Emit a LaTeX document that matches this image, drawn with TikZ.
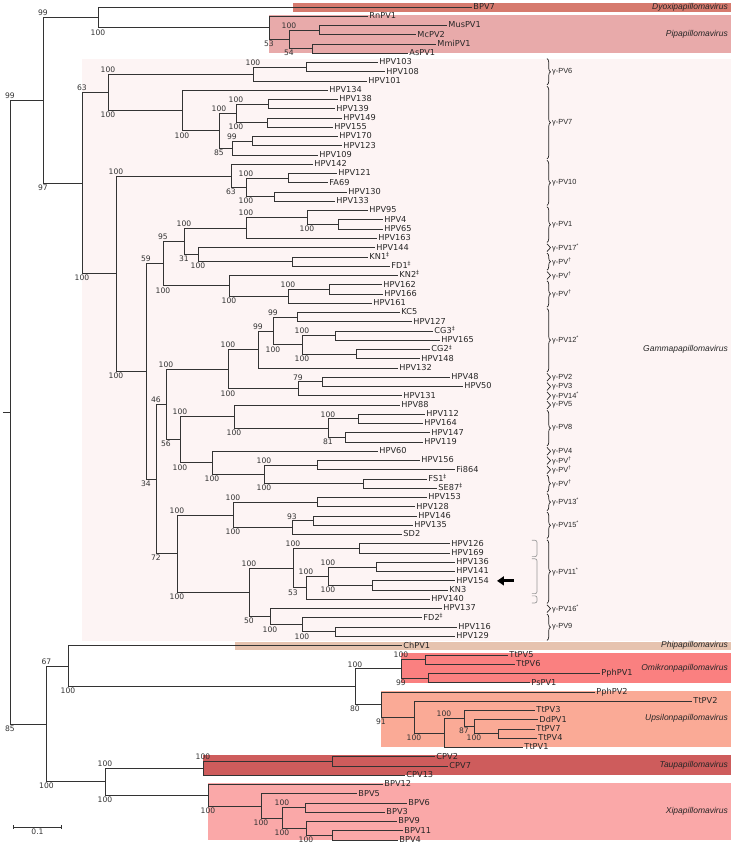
\documentclass[tikz,border=0pt]{standalone}
\usepackage{fontspec}
\setmainfont{DejaVu Sans}
\newfontfamily\cladefont{Liberation Sans}
\usetikzlibrary{decorations.pathreplacing,arrows.meta}

\definecolor{dyoxi}{RGB}{214,122,110}
\definecolor{pipa}{RGB}{232,170,170}
\definecolor{gammabg}{RGB}{253,244,244}
\definecolor{phi}{RGB}{230,195,175}
\definecolor{omikron}{RGB}{250,128,128}
\definecolor{upsilon}{RGB}{250,170,150}
\definecolor{tau}{RGB}{206,92,92}
\definecolor{xi}{RGB}{250,168,168}

\tikzset{
  branch/.style={line width=0.8pt,draw=black!80},
  leaf/.style={anchor=west,inner sep=1.5pt,outer sep=0pt,text=black!85,
    font=\fontsize{8.2}{9}\selectfont,text height=6.2pt,text depth=1.5pt},
  hi/.style={pos=0.5,anchor=south,inner sep=1.2pt,text=black!80,font=\fontsize{7.6}{9}\selectfont},
  lo/.style={pos=0.5,anchor=north,inner sep=1.2pt,text=black!80,font=\fontsize{7.6}{9}\selectfont},
  clade/.style={anchor=east,inner sep=0pt,text=black!85,font=\cladefont\itshape\fontsize{8.5}{10}\selectfont},
  grp/.style={anchor=west,inner sep=1pt,text=black!85,font=\cladefont\fontsize{7.4}{8}\selectfont},
  brc/.style={decorate,decoration={brace,amplitude=3.5pt},line width=0.7pt,draw=black!85},
  subbr/.style={draw=black!40,rounded corners=2pt,line width=0.7pt},
}

\begin{document}
\begin{tikzpicture}[x=1pt,y=-9.256pt]
\useasboundingbox (0,0.2437) rectangle (734,91.753);

% genus shading
\fill[dyoxi] (293,0.55) rectangle (731,1.5);
\fill[pipa] (269,1.9) rectangle (731,5.98);
\fill[gammabg] (82,6.6) rectangle (731,69.45);
\fill[phi] (235,69.55) rectangle (731,70.5);
\fill[omikron] (401,70.8) rectangle (731,74.0);
\fill[upsilon] (381,74.85) rectangle (731,81.0);
\fill[tau] (203,81.85) rectangle (731,83.95);
\fill[xi] (208,84.85) rectangle (731,91.0);

\node[clade] (dyoxilab) at (728,1) {Dyoxipapillomavirus};
\node[clade] (pipalab) at (728,4) {Pipapillomavirus};
\node[clade] (gammalab) at (728,38) {Gammapapillomavirus};
\node[clade] (philab) at (728,70) {Phipapillomavirus};
\node[clade] (omilab) at (728,72.45) {Omikronpapillomavirus};
\node[clade] (upslab) at (728,77.9) {Upsilonpapillomavirus};
\node[clade] (taulab) at (728,82.9) {Taupapillomavirus};
\node[clade] (xilab) at (728,87.9) {Xipapillomavirus};

% tips
\foreach \nm/\tx/\txt [count=\i] in {
  BPV7/472/BPV7, RnPV1/368/RnPV1, MusPV1/447/MusPV1, McPV2/416/McPV2, MmiPV1/436/MmiPV1,
  AsPV1/408/AsPV1, HPV103/378/HPV103, HPV108/385/HPV108, HPV101/367/HPV101, HPV134/328/HPV134,
  HPV138/338/HPV138, HPV139/335/HPV139, HPV149/342/HPV149, HPV155/333/HPV155, HPV170/338/HPV170,
  HPV123/342/HPV123, HPV109/318/HPV109, HPV142/313/HPV142, HPV121/337/HPV121, FA69/328/FA69,
  HPV130/347/HPV130, HPV133/335/HPV133, HPV95/368/HPV95, HPV4/383/HPV4, HPV65/383/HPV65,
  HPV163/377/HPV163, HPV144/375/HPV144, KN1/368/KN1\textsuperscript{‡}, FD1/390/FD1\textsuperscript{‡}, KN2/398/KN2\textsuperscript{‡},
  HPV162/382/HPV162, HPV166/383/HPV166, HPV161/372/HPV161, KC5/400/KC5, HPV127/412/HPV127,
  CG3/433/CG3\textsuperscript{‡}, HPV165/440/HPV165, CG2/430/CG2\textsuperscript{‡}, HPV148/420/HPV148, HPV132/398/HPV132,
  HPV48/450/HPV48, HPV50/463/HPV50, HPV131/402/HPV131, HPV88/400/HPV88, HPV112/425/HPV112,
  HPV164/423/HPV164, HPV147/430/HPV147, HPV119/423/HPV119, HPV60/378/HPV60, HPV156/420/HPV156,
  Fi864/455/Fi864, FS1/427/FS1\textsuperscript{‡}, SE87/437/SE87\textsuperscript{‡}, HPV153/427/HPV153, HPV128/415/HPV128,
  HPV146/417/HPV146, HPV135/413/HPV135, SD2/402/SD2, HPV126/450/HPV126, HPV169/450/HPV169,
  HPV136/455/HPV136, HPV141/455/HPV141, HPV154/455/HPV154, KN3/448/KN3, HPV140/430/HPV140,
  HPV137/442/HPV137, FD2/422/FD2\textsuperscript{‡}, HPV116/457/HPV116, HPV129/455/HPV129, ChPV1/402/ChPV1,
  TtPV5/508/TtPV5, TtPV6/515/TtPV6, PphPV1/600/PphPV1, PsPV1/530/PsPV1, PphPV2/595/PphPV2,
  TtPV2/692/TtPV2, TtPV3/535/TtPV3, DdPV1/538/DdPV1, TtPV7/535/TtPV7, TtPV4/537/TtPV4,
  TtPV1/523/TtPV1, CPV2/435/CPV2, CPV7/448/CPV7, CPV13/405/CPV13, BPV12/383/BPV12,
  BPV5/357/BPV5, BPV6/407/BPV6, BPV3/385/BPV3, BPV9/397/BPV9, BPV11/403/BPV11, BPV4/398/BPV4}
  \node[leaf] (\nm) at (\tx,\i) {\txt};

% inner nodes
\coordinate (root) at (10,44.7637);
\coordinate (stem) at (3,44.7637);
\coordinate (A) at (43,11.0684);
\coordinate (B) at (46.5,78.459);
\coordinate (A1) at (98,2.125);
\coordinate (P) at (269,3.25);
\coordinate (Q) at (289,4.5);
\coordinate (R) at (319,3.5);
\coordinate (S) at (312,5.5);
\coordinate (G) at (82,20.0117);
\coordinate (G1) at (108,10.2188);
\coordinate (G2) at (116,29.8047);
\coordinate (G6n) at (253,8.25);
\coordinate (N103) at (306,7.5);
\coordinate (G7n) at (182,12.1875);
\coordinate (N7b) at (219,14.375);
\coordinate (N7c) at (236,12.5);
\coordinate (N138) at (268,11.5);
\coordinate (N149) at (267,13.5);
\coordinate (N7d) at (232,16.25);
\coordinate (N170) at (252,15.5);
\coordinate (G10n) at (231,19.25);
\coordinate (N10b) at (246,20.5);
\coordinate (N121) at (288,19.5);
\coordinate (N130) at (274,21.5);
\coordinate (G3) at (146,40.3594);
\coordinate (G3a) at (163,28.7188);
\coordinate (G3a1) at (184,26.3125);
\coordinate (N1) at (246,24.875);
\coordinate (N95) at (307,23.75);
\coordinate (N4) at (338,24.5);
\coordinate (N17) at (198,27.75);
\coordinate (NKN1) at (292,28.5);
\coordinate (G3a2) at (229,31.125);
\coordinate (N162) at (288,32.25);
\coordinate (N162b) at (329,31.5);
\coordinate (G3b) at (156,52);
\coordinate (G4) at (166,43.9375);
\coordinate (G4a) at (228,40.125);
\coordinate (G4a1) at (258,38);
\coordinate (N99b) at (273,36);
\coordinate (NKC5) at (297,34.5);
\coordinate (NCG) at (302,37.5);
\coordinate (NCG3) at (335,36.5);
\coordinate (NCG2) at (356,38.5);
\coordinate (G4a2) at (298,42.25);
\coordinate (N48) at (322,41.5);
\coordinate (G5) at (180,47.75);
\coordinate (G5a) at (234,45.25);
\coordinate (N8) at (328,46.5);
\coordinate (N112) at (358,45.5);
\coordinate (N147) at (345,47.5);
\coordinate (G5b) at (212,50.25);
\coordinate (N5b1) at (264,51.5);
\coordinate (N156) at (317,50.5);
\coordinate (NFS1) at (363,52.5);
\coordinate (G6) at (177,60.0625);
\coordinate (G6a) at (233,55.875);
\coordinate (N153) at (317,54.5);
\coordinate (N6a2) at (292,57.25);
\coordinate (N146) at (313,56.5);
\coordinate (G6b) at (249,64.25);
\coordinate (G11) at (293,61.625);
\coordinate (N126) at (359,59.5);
\coordinate (G11b) at (306,63.75);
\coordinate (G11c) at (328,62.5);
\coordinate (N136) at (376,61.5);
\coordinate (N154) at (372,63.5);
\coordinate (G9) at (270,66.875);
\coordinate (G9b) at (302,67.75);
\coordinate (N116) at (335,68.5);
\coordinate (B1) at (68,72.2148);
\coordinate (B1b) at (355,74.4297);
\coordinate (Omi) at (401,72.5);
\coordinate (N5) at (425,71.5);
\coordinate (NPph) at (428,73.5);
\coordinate (Ups) at (381,76.3594);
\coordinate (U2) at (414,77.7188);
\coordinate (U3) at (444,79.4375);
\coordinate (U4) at (464,77.875);
\coordinate (U5) at (474,78.75);
\coordinate (N7) at (498,79.5);
\coordinate (B2) at (105,84.7031);
\coordinate (Tau) at (203,83.25);
\coordinate (NCPV) at (332,82.5);
\coordinate (Xi) at (208,86.1563);
\coordinate (X2) at (261,87.3125);
\coordinate (X3) at (282,88.625);
\coordinate (N6) at (305,87.5);
\coordinate (X4) at (306,89.75);
\coordinate (N11) at (332,90.5);

% branches
\draw[branch] (stem) -- (root);
\draw[branch] (root) |- (A) node[hi] (sA) {99} (root) |- (B) node[lo] (sB) {85};
\draw[branch] (A) |- (A1) node[hi] (sA1) {99} (A) |- (G) node[lo] (sG) {97};
\draw[branch] (A1) |- (BPV7) (A1) |- (P) node[lo] (sP) {100};
\draw[branch] (P) |- (RnPV1) (P) |- (Q) node[lo] (sQ) {53};
\draw[branch] (Q) |- (R) node[hi] (sR) {100} (Q) |- (S) node[lo] (sS) {54};
\draw[branch] (R) |- (MusPV1) (R) |- (McPV2) (S) |- (MmiPV1) (S) |- (AsPV1);
% gamma
\draw[branch] (G) |- (G1) node[hi] (sG1) {63} (G) |- (G2) node[lo] (sG2) {100};
\draw[branch] (G1) |- (G6n) node[hi] (sG6n) {100} (G1) |- (G7n) node[lo] (sG7n) {100};
\draw[branch] (G6n) |- (N103) node[hi] (sN103) {100} (G6n) |- (HPV101);
\draw[branch] (N103) |- (HPV103) (N103) |- (HPV108);
\draw[branch] (G7n) |- (HPV134) (G7n) |- (N7b) node[lo] (sN7b) {100};
\draw[branch] (N7b) |- (N7c) node[hi] (sN7c) {100} (N7b) |- (N7d) node[lo] (sN7d) {85};
\draw[branch] (N7c) |- (N138) node[hi] (sN138) {100} (N7c) |- (N149) node[lo] (sN149) {100};
\draw[branch] (N138) |- (HPV138) (N138) |- (HPV139) (N149) |- (HPV149) (N149) |- (HPV155);
\draw[branch] (N7d) |- (N170) node[hi] (sN170) {99} (N7d) |- (HPV109);
\draw[branch] (N170) |- (HPV170) (N170) |- (HPV123);
\draw[branch] (G2) |- (G10n) node[hi] (sG10n) {100} (G2) |- (G3) node[lo] (sG3) {100};
\draw[branch] (G10n) |- (HPV142) (G10n) |- (N10b) node[lo] (sN10b) {63};
\draw[branch] (N10b) |- (N121) node[hi] (sN121) {100} (N10b) |- (N130) node[lo] (sN130) {100};
\draw[branch] (N121) |- (HPV121) (N121) |- (FA69) (N130) |- (HPV130) (N130) |- (HPV133);
\draw[branch] (G3) |- (G3a) node[hi] (sG3a) {59} (G3) |- (G3b) node[lo] (sG3b) {34};
\draw[branch] (G3a) |- (G3a1) node[hi] (sG3a1) {95} (G3a) |- (G3a2) node[lo] (sG3a2) {100};
\draw[branch] (G3a1) |- (N1) node[hi] (sN1) {100} (G3a1) |- (N17) node[lo] (sN17) {31};
\draw[branch] (N1) |- (N95) node[hi] (sN95) {100} (N1) |- (HPV163);
\draw[branch] (N95) |- (HPV95) (N95) |- (N4) node[lo] (sN4) {100};
\draw[branch] (N4) |- (HPV4) (N4) |- (HPV65);
\draw[branch] (N17) |- (HPV144) (N17) |- (NKN1) node[lo] (sNKN1) {100};
\draw[branch] (NKN1) |- (KN1) (NKN1) |- (FD1);
\draw[branch] (G3a2) |- (KN2) (G3a2) |- (N162) node[lo] (sN162) {100};
\draw[branch] (N162) |- (N162b) node[hi] (sN162b) {100} (N162) |- (HPV161);
\draw[branch] (N162b) |- (HPV162) (N162b) |- (HPV166);
\draw[branch] (G3b) |- (G4) node[hi] (sG4) {46} (G3b) |- (G6) node[lo] (sG6) {72};
\draw[branch] (G4) |- (G4a) node[hi] (sG4a) {100} (G4) |- (G5) node[lo] (sG5) {56};
\draw[branch] (G4a) |- (G4a1) node[hi] (sG4a1) {100} (G4a) |- (G4a2) node[lo] (sG4a2) {100};
\draw[branch] (G4a1) |- (N99b) node[hi] (sN99b) {99} (G4a1) |- (HPV132);
\draw[branch] (N99b) |- (NKC5) node[hi] (sNKC5) {99} (N99b) |- (NCG) node[lo] (sNCG) {100};
\draw[branch] (NKC5) |- (KC5) (NKC5) |- (HPV127);
\draw[branch] (NCG) |- (NCG3) node[hi] (sNCG3) {100} (NCG) |- (NCG2) node[lo] (sNCG2) {100};
\draw[branch] (NCG3) |- (CG3) (NCG3) |- (HPV165) (NCG2) |- (CG2) (NCG2) |- (HPV148);
\draw[branch] (G4a2) |- (N48) node[hi] (sN48) {79} (G4a2) |- (HPV131);
\draw[branch] (N48) |- (HPV48) (N48) |- (HPV50);
\draw[branch] (G5) |- (G5a) node[hi] (sG5a) {100} (G5) |- (G5b) node[lo] (sG5b) {100};
\draw[branch] (G5a) |- (HPV88) (G5a) |- (N8) node[lo] (sN8) {100};
\draw[branch] (N8) |- (N112) node[hi] (sN112) {100} (N8) |- (N147) node[lo] (sN147) {81};
\draw[branch] (N112) |- (HPV112) (N112) |- (HPV164) (N147) |- (HPV147) (N147) |- (HPV119);
\draw[branch] (G5b) |- (HPV60) (G5b) |- (N5b1) node[lo] (sN5b1) {100};
\draw[branch] (N5b1) |- (N156) node[hi] (sN156) {100} (N5b1) |- (NFS1) node[lo] (sNFS1) {100};
\draw[branch] (N156) |- (HPV156) (N156) |- (Fi864) (NFS1) |- (FS1) (NFS1) |- (SE87);
\draw[branch] (G6) |- (G6a) node[hi] (sG6a) {100} (G6) |- (G6b) node[lo] (sG6b) {100};
\draw[branch] (G6a) |- (N153) node[hi] (sN153) {100} (G6a) |- (N6a2) node[lo] (sN6a2) {100};
\draw[branch] (N153) |- (HPV153) (N153) |- (HPV128);
\draw[branch] (N6a2) |- (N146) node[hi] (sN146) {93} (N6a2) |- (SD2);
\draw[branch] (N146) |- (HPV146) (N146) |- (HPV135);
\draw[branch] (G6b) |- (G11) node[hi] (sG11) {100} (G6b) |- (G9) node[lo] (sG9) {50};
\draw[branch] (G11) |- (N126) node[hi] (sN126) {100} (G11) |- (G11b) node[lo] (sG11b) {53};
\draw[branch] (N126) |- (HPV126) (N126) |- (HPV169);
\draw[branch] (G11b) |- (G11c) node[hi] (sG11c) {100} (G11b) |- (HPV140);
\draw[branch] (G11c) |- (N136) node[hi] (sN136) {100} (G11c) |- (N154) node[lo] (sN154) {100};
\draw[branch] (N136) |- (HPV136) (N136) |- (HPV141) (N154) |- (HPV154) (N154) |- (KN3);
\draw[branch] (G9) |- (HPV137) (G9) |- (G9b) node[lo] (sG9b) {100};
\draw[branch] (G9b) |- (FD2) (G9b) |- (N116) node[lo] (sN116) {100};
\draw[branch] (N116) |- (HPV116) (N116) |- (HPV129);
% lower part
\draw[branch] (B) |- (B1) node[hi] (sB1) {67} (B) |- (B2) node[lo] (sB2) {100};
\draw[branch] (B1) |- (ChPV1) (B1) |- (B1b) node[lo] (sB1b) {100};
\draw[branch] (B1b) |- (Omi) node[hi] (sOmi) {100} (B1b) |- (Ups) node[lo] (sUps) {80};
\draw[branch] (Omi) |- (N5) node[hi] (sN5) {100} (Omi) |- (NPph) node[lo] (sNPph) {99};
\draw[branch] (N5) |- (TtPV5) (N5) |- (TtPV6) (NPph) |- (PphPV1) (NPph) |- (PsPV1);
\draw[branch] (Ups) |- (PphPV2) (Ups) |- (U2) node[lo] (sU2) {91};
\draw[branch] (U2) |- (TtPV2) (U2) |- (U3) node[lo] (sU3) {100};
\draw[branch] (U3) |- (U4) node[hi] (sU4) {100} (U3) |- (TtPV1);
\draw[branch] (U4) |- (TtPV3) (U4) |- (U5) node[lo] (sU5) {87};
\draw[branch] (U5) |- (DdPV1) (U5) |- (N7) node[lo] (sN7) {100};
\draw[branch] (N7) |- (TtPV7) (N7) |- (TtPV4);
\draw[branch] (B2) |- (Tau) node[hi] (sTau) {100} (B2) |- (Xi) node[lo] (sXi) {100};
\draw[branch] (Tau) |- (NCPV) node[hi] (sNCPV) {100} (Tau) |- (CPV13);
\draw[branch] (NCPV) |- (CPV2) (NCPV) |- (CPV7);
\draw[branch] (Xi) |- (BPV12) (Xi) |- (X2) node[lo] (sX2) {100};
\draw[branch] (X2) |- (BPV5) (X2) |- (X3) node[lo] (sX3) {100};
\draw[branch] (X3) |- (N6) node[hi] (sN6) {100} (X3) |- (X4) node[lo] (sX4) {100};
\draw[branch] (N6) |- (BPV6) (N6) |- (BPV3);
\draw[branch] (X4) |- (BPV9) (X4) |- (N11) node[lo] (sN11) {100};
\draw[branch] (N11) |- (BPV11) (N11) |- (BPV4);

% gamma species braces
\foreach \a/\b/\t in {7/9/γ-PV6, 10/17/γ-PV7, 18/22/γ-PV10, 23/26/γ-PV1,
  27/27/γ-PV17\textsuperscript{*}, 28/29/γ-PV\textsuperscript{†}, 30/30/γ-PV\textsuperscript{†},
  31/33/γ-PV\textsuperscript{†}, 34/40/γ-PV12\textsuperscript{*}, 41/41/γ-PV2, 42/42/γ-PV3,
  43/43/γ-PV14\textsuperscript{*}, 44/44/γ-PV5, 45/48/γ-PV8, 49/49/γ-PV4,
  50/50/γ-PV\textsuperscript{†}, 51/51/γ-PV\textsuperscript{†}, 52/53/γ-PV\textsuperscript{†},
  54/55/γ-PV13\textsuperscript{*}, 56/58/γ-PV15\textsuperscript{*}, 59/65/γ-PV11\textsuperscript{*},
  66/66/γ-PV16\textsuperscript{*}, 67/69/γ-PV9}
{
  \draw[brc] (547,{\a-0.42}) -- (547,{\b+0.42});
  \node[grp] (grp\a) at (551,{(\a+\b)/2}) {\t};
}
\foreach \a/\b in {59/60, 61/64, 65/65}
  \draw[subbr] (532,{\a-0.38}) -- (537,{\a-0.38}) -- (537,{\b+0.38}) -- (532,{\b+0.38});

% pointer to HPV154
\coordinate (arr0) at (514,63);
\coordinate (arr1) at (497,63);
\draw[line width=3pt,-{Triangle[length=7pt,width=9pt]}] (arr0) -- (arr1);

% scale bar
\coordinate (sb0) at (13,89.59);
\coordinate (sb1) at (62,89.59);
\draw[branch,{Bar[width=3.5pt]}-{Bar[width=3.5pt]}] (sb0) -- (sb1)
  node[midway,below,inner sep=1.5pt,font=\fontsize{7.6}{9}\selectfont,text=black!80] (sblab) {0.1};
\end{tikzpicture}
\end{document}
